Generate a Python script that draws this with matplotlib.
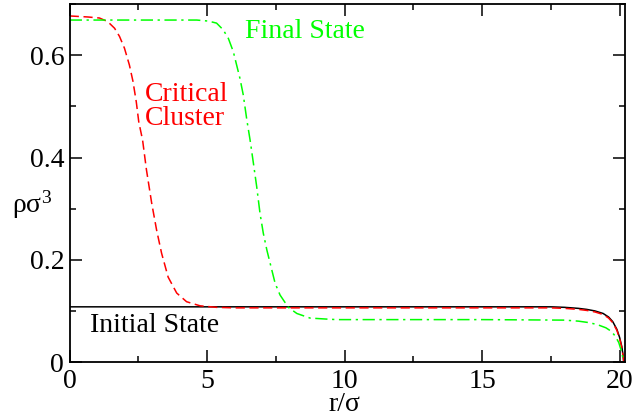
import numpy as np
import matplotlib
matplotlib.use("Agg")
import matplotlib.pyplot as plt
from matplotlib.ticker import MultipleLocator

plt.rcParams['font.family'] = ['Liberation Serif', 'DejaVu Serif']
plt.rcParams['mathtext.fontset'] = 'custom'
plt.rcParams['mathtext.rm'] = 'Liberation Serif'
plt.rcParams['mathtext.it'] = 'Liberation Serif:italic'

# initial state (black, solid)
r_init = [0.0, 5.0, 10.0, 15.0, 17.0, 17.5, 18.0, 18.5, 18.8, 19.1, 19.4, 19.6, 19.75, 19.9,
          20.0, 20.08, 20.13, 20.15]
rho_init = [0.108, 0.108, 0.108, 0.108, 0.108, 0.108, 0.107, 0.105, 0.103, 0.100, 0.095, 0.088, 0.079, 0.064,
            0.048, 0.030, 0.012, 0.0]

# critical cluster (red, dashed)
r_crit = [0.0, 0.66, 1.08, 1.38, 1.63, 1.81, 1.99, 2.17, 2.30, 2.42, 2.51, 2.65, 2.79, 2.98,
          3.16, 3.34, 3.58, 3.89, 4.25, 4.74, 5.34, 6.0, 10.0, 15.0, 17.5, 18.0, 18.5, 18.8,
          19.1, 19.4, 19.6, 19.75, 19.9, 20.0, 20.08, 20.13, 20.15]
rho_crit = [0.677, 0.675, 0.673, 0.666, 0.653, 0.637, 0.614, 0.581, 0.549, 0.509, 0.470, 0.434, 0.376, 0.311,
            0.258, 0.213, 0.166, 0.135, 0.118, 0.110, 0.107, 0.106, 0.106, 0.106, 0.106, 0.105, 0.103, 0.101,
            0.098, 0.093, 0.086, 0.077, 0.062, 0.046, 0.028, 0.010, 0.0]

# final state (green, dash-dot)
r_fin = [0.0, 2.5, 4.62, 5.04, 5.34, 5.58, 5.77, 5.95, 6.07, 6.19, 6.31, 6.44, 6.56, 6.68,
         6.80, 6.92, 7.04, 7.17, 7.29, 7.47, 7.65, 7.95, 8.26, 8.74, 9.35, 9.72, 12.0, 15.0,
         18.0, 18.5, 18.9, 19.2, 19.5, 19.7, 19.85, 19.97, 20.06, 20.12, 20.15]
rho_fin = [0.669, 0.669, 0.669, 0.667, 0.663, 0.650, 0.633, 0.607, 0.581, 0.555, 0.523, 0.474, 0.434, 0.389,
           0.343, 0.291, 0.252, 0.219, 0.193, 0.154, 0.131, 0.107, 0.095, 0.086, 0.084, 0.083, 0.083, 0.083,
           0.082, 0.080, 0.077, 0.073, 0.067, 0.060, 0.050, 0.038, 0.022, 0.008, 0.0]

green = '#00ff00'

fig = plt.figure(figsize=(6.34, 4.2), dpi=100)
ax = fig.add_axes([0.110, 0.138, 0.876, 0.852])

ax.plot(r_init, rho_init, color='black', lw=1.1)
ax.plot(r_crit, rho_crit, color='red', lw=1.1, dashes=(6, 3))
ax.plot(r_fin, rho_fin, color=green, lw=1.1, dashes=(8, 3, 1.5, 3))

ax.text(6.38, 0.646, 'Final State', color=green, fontsize=20, va='center')
ax.text(2.73, 0.50, 'Critical\nCluster', color='red', fontsize=20, va='center',
        ha='left', linespacing=0.95)
ax.text(0.73, 0.072, 'Initial State', color='black', fontsize=20, va='center')

ax.set_xlim(0, 20.2)
ax.set_ylim(0, 0.7)
ax.xaxis.set_major_locator(MultipleLocator(5))
ax.xaxis.set_minor_locator(MultipleLocator(2.5))
ax.yaxis.set_minor_locator(MultipleLocator(0.1))
ax.set_yticks([0, 0.2, 0.4, 0.6])
ax.set_yticklabels(['0', '0.2', '0.4', '0.6'])
ax.tick_params(which='both', direction='in', top=True, right=True, labelsize=20, width=1.1)
ax.tick_params(axis='x', which='major', length=8.5, pad=5)
ax.tick_params(axis='y', which='major', length=8.5, pad=4)
ax.tick_params(which='minor', length=4.3)
for s in ax.spines.values():
    s.set_linewidth(1.3)

ax.set_xlabel(r'r/σ', fontsize=20)
ax.xaxis.set_label_coords(0.495, -0.083)
ax.set_ylabel(r'ρσ$^3$', fontsize=20, rotation=0, ha='center', va='center')
ax.yaxis.set_label_coords(-0.068, 0.44)

fig.savefig('out.png', dpi=100)
